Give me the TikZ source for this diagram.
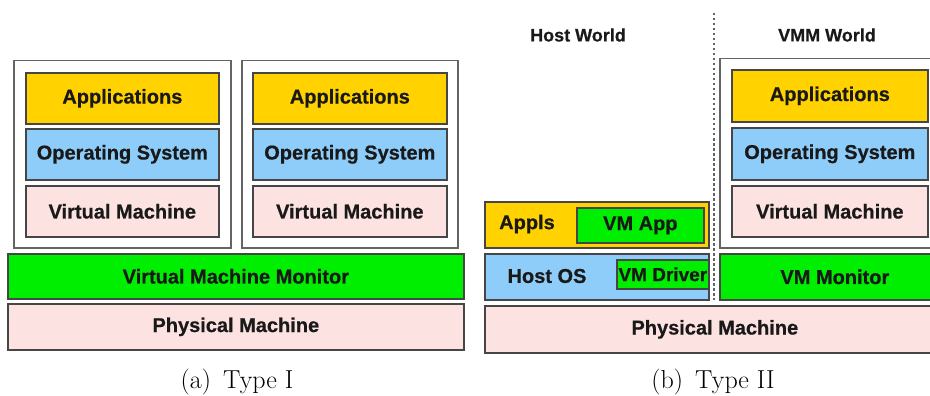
\documentclass[tikz,border=0pt]{standalone}
\usepackage{fontspec}
\setmainfont{Latin Modern Roman}
\newfontfamily\boxfont[FakeBold=0.6]{Liberation Sans Bold}
\definecolor{cyel}{RGB}{255,210,0}
\definecolor{cblue}{RGB}{142,205,250}
\definecolor{cpink}{RGB}{252,226,224}
\definecolor{cgreen}{RGB}{0,238,0}
\definecolor{cline}{RGB}{70,70,70}
\definecolor{couter}{RGB}{100,100,100}
\definecolor{ctext}{RGB}{25,25,25}
\begin{document}
\begin{tikzpicture}[x=1pt,y=-1pt,
  layer/.style={draw=cline,line width=1.7pt,rectangle,inner sep=0pt,anchor=north west,
    font=\boxfont\fontsize{20}{24}\selectfont,text=ctext},
  outer/.style={draw=couter,line width=1.5pt,rectangle,inner sep=0pt,anchor=north west,fill=white},
  lbl/.style={font=\boxfont\fontsize{20}{24}\selectfont,text=ctext,inner sep=0pt},
  ttl/.style={font=\boxfont\fontsize{18}{22}\selectfont,text=ctext,inner sep=0pt},
  captxt/.style={font=\fontsize{26}{30}\selectfont,inner sep=0pt,anchor=base}]
\useasboundingbox (0,0) rectangle (930,396);
\clip (0,0) rectangle (930,396);
% ---------- Type I ----------
\node[outer,minimum width=217,minimum height=187] (out1) at (13,60) {};
\node[outer,minimum width=216,minimum height=187] (out2) at (241,60) {};
\node[layer,fill=cyel,minimum width=193,minimum height=51] (app1) at (25,72) {Applications};
\node[layer,fill=cblue,minimum width=193,minimum height=51] (os1) at (25,128) {Operating System};
\node[layer,fill=cpink,minimum width=193,minimum height=51] (vm1) at (25,185) {Virtual Machine};
\node[layer,fill=cyel,minimum width=194,minimum height=51] (app2) at (252,72) {Applications};
\node[layer,fill=cblue,minimum width=194,minimum height=51] (os2) at (252,128) {Operating System};
\node[layer,fill=cpink,minimum width=194,minimum height=51] (vm2) at (252,185) {Virtual Machine};
\node[layer,fill=cgreen,minimum width=456,minimum height=45] (vmm) at (7,253) {Virtual Machine Monitor};
\node[layer,fill=cpink,minimum width=456,minimum height=46] (pm1) at (7,303) {Physical Machine};
\node[captxt] (capa) at (237,388) {(a)\, Type I};
% ---------- Type II ----------
\node[ttl] (hw) at (578,35) {Host World};
\node[ttl] (vw) at (827,35) {VMM World};
\coordinate (dtop) at (714,13);
\coordinate (dbot) at (714,300);
\draw[couter,line width=2pt,dash pattern=on 2.5pt off 2.5pt] (dtop) -- (dbot);
\node[outer,minimum width=230,minimum height=189] (vout) at (719,58) {};
\node[layer,fill=cyel,minimum width=196,minimum height=52] (app3) at (731,69) {Applications};
\node[layer,fill=cblue,minimum width=196,minimum height=52] (os3) at (731,127) {Operating System};
\node[layer,fill=cpink,minimum width=196,minimum height=51] (vm3) at (731,185) {Virtual Machine};
\node[layer,fill=cyel,minimum width=224,minimum height=46] (appls) at (484,201) {};
\node[lbl] (applst) at (527,224) {Appls};
\node[layer,fill=cgreen,minimum width=127,minimum height=35] (vmapp) at (576,207) {VM App};
\node[layer,fill=cblue,minimum width=224,minimum height=46] (hos) at (484,253) {};
\node[lbl] (host) at (547,276) {Host OS};
\node[layer,fill=cgreen,minimum width=92,minimum height=29,font=\boxfont\fontsize{19}{22}\selectfont] (vmdrv) at (616,259) {VM Driver};
\node[layer,fill=cgreen,minimum width=230,minimum height=46] (vmmon) at (719,253) {VM Monitor};
\node[layer,fill=cpink,minimum width=460,minimum height=47] (pm2) at (484,305) {Physical Machine};
\node[captxt] (capb) at (713,388) {(b)\, Type II};
\end{tikzpicture}
\end{document}
